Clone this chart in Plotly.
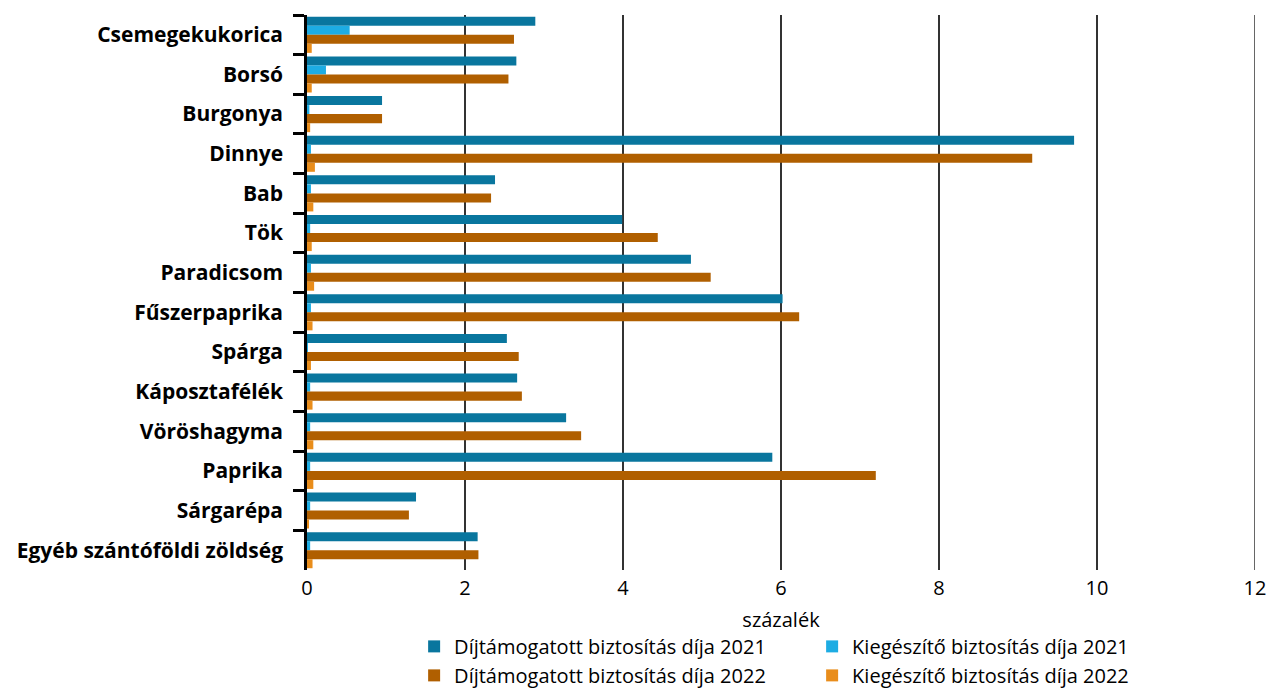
import plotly.graph_objects as go

categories = [
    "Csemegekukorica", "Borsó", "Burgonya", "Dinnye", "Bab", "Tök", "Paradicsom",
    "Fűszerpaprika", "Spárga", "Káposztafélék", "Vöröshagyma", "Paprika",
    "Sárgarépa", "Egyéb szántóföldi zöldség",
]

dijtamogatott_2021 = [2.89, 2.65, 0.95, 9.71, 2.38, 3.99, 4.86, 6.02, 2.53, 2.66, 3.28, 5.89, 1.38, 2.16]
kiegeszito_2021 = [0.54, 0.24, 0.03, 0.05, 0.05, 0.04, 0.05, 0.05, 0.01, 0.04, 0.04, 0.04, 0.04, 0.04]
dijtamogatott_2022 = [2.62, 2.55, 0.95, 9.18, 2.33, 4.44, 5.11, 6.23, 2.68, 2.72, 3.47, 7.20, 1.29, 2.17]
kiegeszito_2022 = [0.06, 0.06, 0.04, 0.10, 0.08, 0.06, 0.09, 0.07, 0.05, 0.07, 0.08, 0.08, 0.02, 0.07]

series_names = [
    "Díjtámogatott biztosítás díja 2021",
    "Kiegészítő biztosítás díja 2021",
    "Díjtámogatott biztosítás díja 2022",
    "Kiegészítő biztosítás díja 2022",
]
series_values = [dijtamogatott_2021, kiegeszito_2021, dijtamogatott_2022, kiegeszito_2022]
series_colors = ["#09769E", "#1DACE3", "#B05F00", "#E98D1B"]

x_ticks = [0, 2, 4, 6, 8, 10, 12]
X_MAX = 12

FONT = "Open Sans"
GRID = "#333333"

fig = go.Figure()
for name, vals, col in zip(series_names, series_values, series_colors):
    fig.add_trace(go.Bar(
        y=categories, x=vals, name=name, orientation="h",
        marker=dict(color=col, line=dict(width=0)),
    ))

# vertical rule on the right edge (last gridline)
fig.add_shape(type="line", xref="x", yref="paper", x0=X_MAX, x1=X_MAX, y0=0, y1=1,
              line=dict(color=GRID, width=1.5), layer="below")

fig.update_layout(
    width=1267, height=693,
    margin=dict(l=307, r=12, t=15, b=123, autoexpand=False),
    paper_bgcolor="white", plot_bgcolor="white",
    barmode="group", bargap=0.09, bargroupgap=0.0,
    font=dict(family=FONT, size=20, color="black"),
    legend=dict(
        orientation="h", x=0.113, xanchor="left", y=-0.1025, yanchor="top",
        entrywidth=353, entrywidthmode="pixels",
        font=dict(family=FONT, size=20, color="black"),
        itemwidth=30, tracegroupgap=0, traceorder="normal",
    ),
    showlegend=True,
)

fig.update_xaxes(
    range=[0, X_MAX], tickvals=x_ticks, ticktext=[str(t) for t in x_ticks],
    showgrid=True, gridcolor=GRID, gridwidth=1.5,
    zeroline=False, showline=False, ticks="",
    tickfont=dict(family=FONT, size=20, color="black"),
    ticklabelstandoff=4,
    title=dict(text="százalék", font=dict(family=FONT, size=20, color="black"), standoff=12),
)

fig.update_yaxes(
    type="category", autorange="reversed",
    showline=True, linecolor="black", linewidth=2.5,
    ticks="outside", tickson="boundaries", ticklen=11, tickwidth=2.5, tickcolor="black",
    showgrid=False, zeroline=False,
    tickfont=dict(family=FONT, size=21, color="black", weight="bold"),
    ticklabelstandoff=17,
)

fig.write_html("out.html")
